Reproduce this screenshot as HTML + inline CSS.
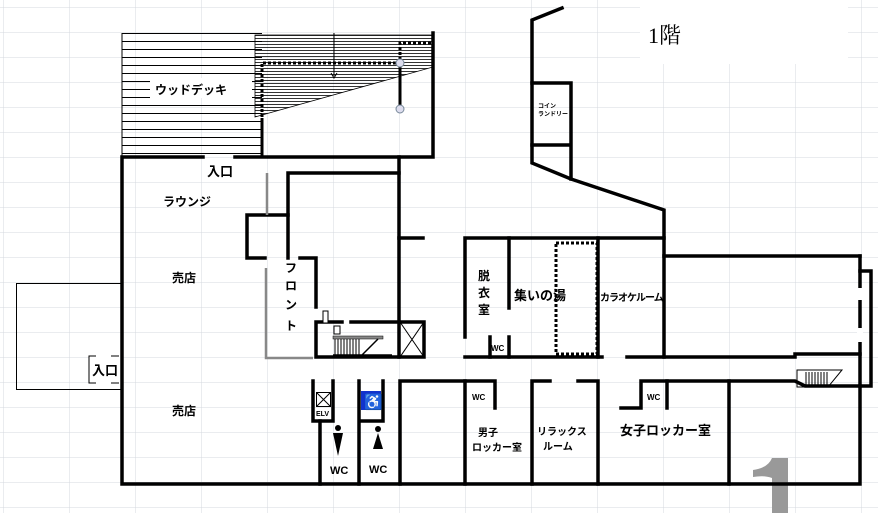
<!DOCTYPE html>
<html><head><meta charset="utf-8"><style>
html,body{margin:0;padding:0;background:#fff}
body{width:878px;height:513px;overflow:hidden;position:relative;font-family:"Liberation Sans","Noto Sans CJK JP",sans-serif}
svg{position:absolute;left:0;top:0}
svg text{font-family:"Liberation Sans","Noto Sans CJK JP",sans-serif;fill:#000}
</style></head><body>
<svg width="878" height="513" viewBox="0 0 878 513" xmlns="http://www.w3.org/2000/svg">
<defs>
<pattern id="grid" x="3" y="7" width="66" height="25" patternUnits="userSpaceOnUse">
<path d="M0 0V25M0 0H66" stroke="#d4d8df" stroke-width="1" fill="none"/>
</pattern>
<pattern id="deck" x="0" y="33" width="10" height="8" patternUnits="userSpaceOnUse">
<path d="M0 0.5H10" stroke="#000" stroke-width="1"/>
</pattern>
<pattern id="fine" x="0" y="35" width="10" height="3" patternUnits="userSpaceOnUse">
<path d="M0 0.5H10" stroke="#000" stroke-width="0.8"/>
</pattern>
</defs>
<rect width="878" height="513" fill="url(#grid)"/>
<rect x="640" y="0" width="208" height="64" fill="#fff"/>
<text x="648" y="43" font-size="22" style="font-family:'Liberation Serif','Noto Serif CJK SC',serif">1階</text>

<path d="M772 458 H788 V513 H772 V478 Q764 475 753 477 V470 Q768 468 772 458Z" fill="#999"/>

<rect x="122" y="33" width="140" height="124" fill="url(#deck)"/>
<line x1="122" y1="33" x2="122" y2="157" stroke="#000" stroke-width="1"/>
<rect x="150" y="78" width="102" height="20" fill="#fff"/>
<text x="155" y="94" font-size="12" font-weight="bold">ウッドデッキ</text>
<polygon points="255,35 433,35 433,67 255,117" fill="url(#fine)"/>
<polygon points="255,35 433,35 433,67 255,117" fill="none" stroke="#000" stroke-width="0.8"/>
<path d="M262 118V157" stroke="#000" stroke-width="3"/>
<path d="M262 117V63H400V43H433" stroke="#000" stroke-width="3" stroke-dasharray="3,2" fill="none"/>
<path d="M400 63V108" stroke="#000" stroke-width="3"/>
<circle cx="400" cy="63" r="4" fill="#dde" stroke="#789"/>
<circle cx="400" cy="109" r="4" fill="#dde" stroke="#789"/>
<path d="M334 33V76M331 73L334 78L337 73" stroke="#000" stroke-width="1" fill="none"/>

<rect x="16.5" y="283.5" width="105" height="106" fill="none" stroke="#000" stroke-width="1"/>
<rect x="89" y="355" width="33" height="28" fill="#fff"/>
<path d="M96 356H89V383H96M111 356H119M111 383H119" stroke="#000" stroke-width="1" fill="none"/>
<text x="92" y="375" font-size="13" font-weight="bold">入口</text>

<g stroke="#000" stroke-width="3.5" fill="none" stroke-linecap="square">
<path d="M203 157H122V484H860V256"/>
<path d="M235 157H433V33"/>
<path d="M399 157V357"/>
<path d="M399 238H423"/>
<path d="M288 258V173H399"/>
<path d="M288 215H247V258H265"/>
<path d="M300 258H316V307"/>
<path d="M316 357V322H342M351 322H424V357H316"/>
<path d="M400 322L424 357M424 322L400 357" stroke-width="1"/>
<path d="M562 8L532 20V163L571 179L664 210V357"/>
<path d="M532 83H571V179M532 145H571"/>
<path d="M465 337V238H664"/>
<path d="M509 238V308M509 337V357M490 337V357"/>
<path d="M465 357H602M627 357H795V354H860"/>
<path d="M598 238V357"/>
<path d="M664 256H860"/>
<path d="M860 271H871V386H860"/>
<path d="M313 421V381M333 381V421H313"/>
<path d="M320 421V484"/>
<path d="M359 381V484M383 381V421H359"/>
<path d="M400 484V381H495V408"/>
<path d="M465 381V484"/>
<path d="M532 484V381H550M578 381H598V484"/>
<path d="M621 408H641V381H795L805 386H860"/>
<path d="M667 381V408"/>
<path d="M729 381V484"/>
</g>
<rect x="857" y="288" width="6" height="12" fill="#fff"/>
<rect x="857" y="328" width="6" height="14" fill="#fff"/>
<path d="M267 173V215M266 268V358H313" stroke="#888" stroke-width="2.5" fill="none"/>
<rect x="323" y="311" width="5" height="12" fill="#fff" stroke="#000" stroke-width="1"/>
<rect x="334" y="326" width="6" height="8" fill="#fff" stroke="#000" stroke-width="1"/>
<rect x="333" y="336" width="50" height="3" fill="#888" stroke="#000" stroke-width="0.5"/>
<path d="M335 339V355M338 339V355M341 339V355M344 339V355M347 339V355M350 339V355M353 339V355M356 339V355M359 339V355" stroke="#000" stroke-width="1"/>
<path d="M362 355L378 339M333 355H392" stroke="#000" stroke-width="1.5"/>
<polygon points="797,370 842,370 828,387 797,387" fill="none" stroke="#000" stroke-width="1"/>
<path d="M806 372V386M809 372V386M812 372V386M815 372V386M818 372V386M821 372V386M824 372V386M827 372V386" stroke="#000" stroke-width="1"/>
<rect x="556" y="243" width="41" height="111" fill="none" stroke="#000" stroke-width="3" stroke-dasharray="3,2"/>
<rect x="316.5" y="392.5" width="14" height="14" fill="#fff" stroke="#000" stroke-width="1"/>
<path d="M317 393L330 406M330 393L317 406" stroke="#000" stroke-width="1"/>
<text x="316" y="416" font-size="7" font-weight="bold">ELV</text>
<rect x="361" y="391" width="20" height="19" fill="#1133cc"/>
<text x="364" y="407" font-size="15" style="fill:#fff">♿</text>
<circle cx="338" cy="428" r="3" fill="#000"/>
<polygon points="333,433 343,433 338,456" fill="#000"/>
<circle cx="378" cy="429" r="3" fill="#000"/>
<polygon points="378,433 373,449 383,449" fill="#000"/>

<g font-weight="bold">
<text x="207" y="176" font-size="13">入口</text>
<text x="163" y="206" font-size="12">ラウンジ</text>
<text x="172" y="282" font-size="12">売店</text>
<text x="172" y="415" font-size="12">売店</text>
<g font-size="12"><text x="285" y="272">フ</text><text x="285" y="290">ロ</text><text x="285" y="309">ン</text><text x="285" y="330">ト</text></g>
<g font-size="12"><text x="478" y="280">脱</text><text x="478" y="297">衣</text><text x="478" y="314">室</text></g>
<text x="514" y="300" font-size="13">集いの湯</text>
<text x="600" y="301" font-size="10" letter-spacing="-1">カラオケルーム</text>
<text x="538" y="108" font-size="6">コイン</text>
<text x="538" y="116" font-size="6">ランドリー</text>
<text x="491" y="351" font-size="8">WC</text>
<text x="472" y="400" font-size="8">WC</text>
<text x="647" y="400" font-size="8">WC</text>
<text x="330" y="474" font-size="11">WC</text>
<text x="369" y="473" font-size="11">WC</text>
<text x="478" y="436" font-size="10">男子</text>
<text x="472" y="451" font-size="10">ロッカー室</text>
<text x="537" y="435" font-size="10">リラックス</text>
<text x="543" y="450" font-size="10">ルーム</text>
<text x="620" y="435" font-size="13">女子ロッカー室</text>
</g>
</svg>
</body></html>
